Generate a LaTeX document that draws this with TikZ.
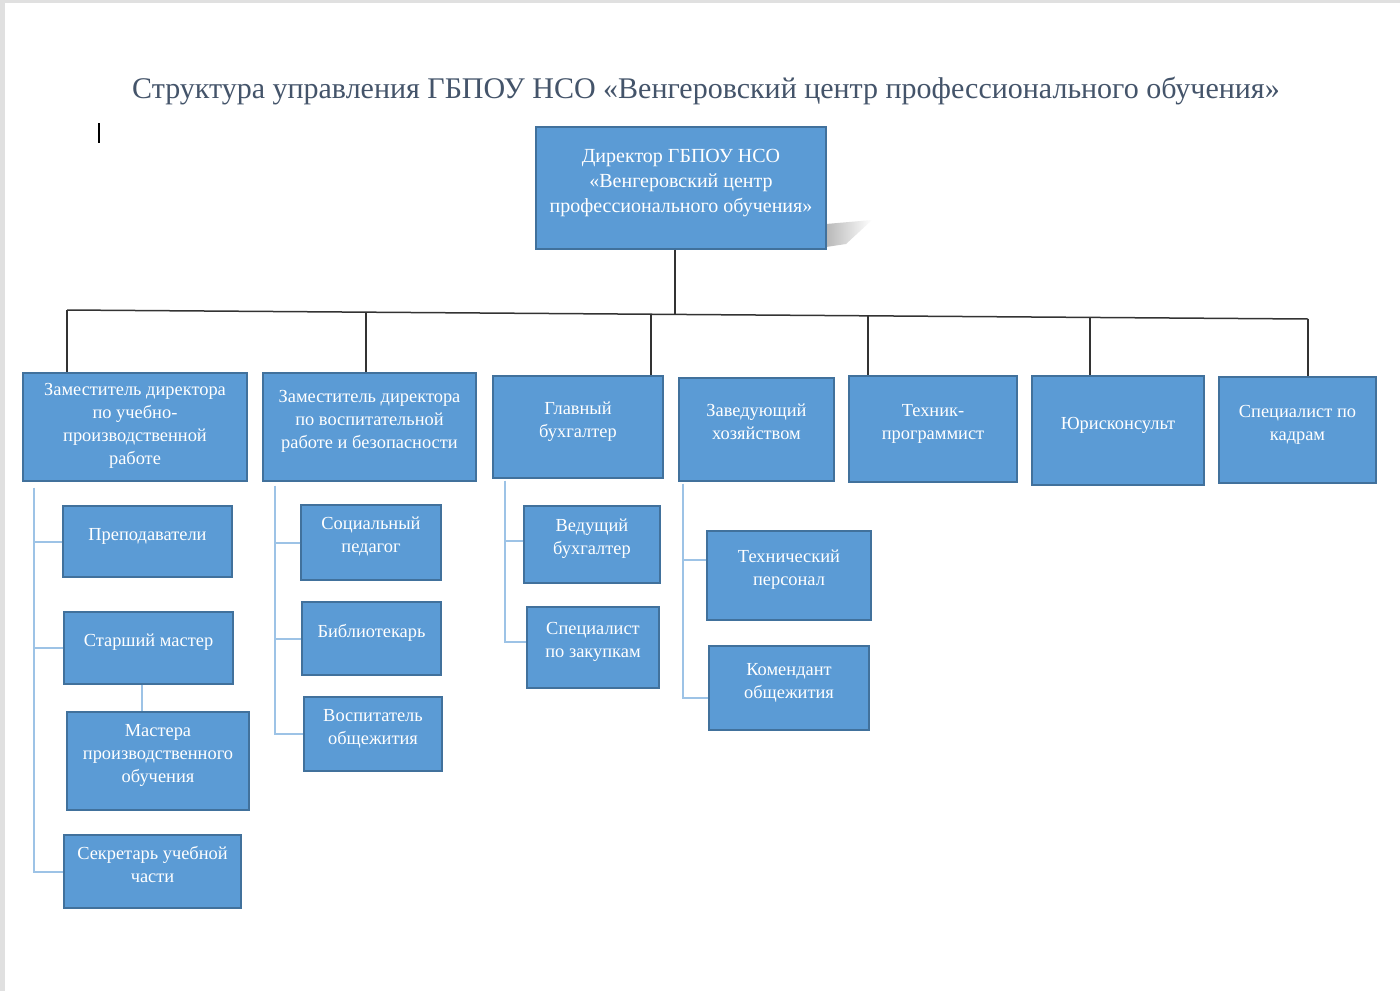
\documentclass[tikz,border=0pt]{standalone}
\usepackage{fontspec}
\setmainfont{Liberation Serif}
\usetikzlibrary{positioning, calc}
\definecolor{boxblue}{HTML}{5B9BD5}
\definecolor{boxedge}{HTML}{41719C}
\definecolor{linkblue}{HTML}{9DC3E6}
\definecolor{titlegray}{HTML}{44546A}
\tikzset{
  box/.style    ={draw=boxedge, fill=boxblue, line width=1.2pt, align=center,
                  text=white, inner sep=2pt, text depth=15pt,
                  font=\fontsize{18.4}{23}\selectfont},
  bigbox/.style ={font=\fontsize{20}{25}\selectfont},
  ttl/.style    ={text=titlegray, font=\fontsize{30}{34}\selectfont},
  topline/.style={draw=black!80, line width=1.5pt},
  subline/.style={draw=linkblue, line width=2pt},
}

\begin{document}
\begin{tikzpicture}[x=1pt, y=-1pt]
  % page
  \fill[black!12] (0,0) rectangle (1400,991);
  \fill[white] (5,3) rectangle (1400,991);
  \useasboundingbox (0,0) rectangle (1400,991);
  \shade[left color=black!28, right color=white] (826,224) -- (872,220) -- (846,244) -- (826,247) -- cycle;

  \node[ttl] (title) at (706,91) {Структура управления ГБПОУ НСО «Венгеровский центр профессионального обучения»};
  \draw[line width=1.2pt] (99,123) -- (99,143);

  % director
  \node[box, bigbox, minimum width=290, minimum height=122] (dir) at (681,188)
    {Директор ГБПОУ НСО\\«Венгеровский центр\\профессионального обучения»};

  % first row
  \node[box, text depth=6pt, minimum width=224, minimum height=108] (b1) at (135,427)
    {Заместитель директора\\по учебно-\\производственной\\работе};
  \node[box, minimum width=213, minimum height=108] (b2) at (369.5,427)
    {Заместитель директора\\по воспитательной\\работе и безопасности};
  \node[box, minimum width=170, minimum height=102] (b3) at (578,427) {Главный\\бухгалтер};
  \node[box, minimum width=155, minimum height=103] (b4) at (756.5,429.5) {Заведующий\\хозяйством};
  \node[box, minimum width=168, minimum height=106] (b5) at (933,429) {Техник-\\программист};
  \node[box, minimum width=172, minimum height=109] (b6) at (1118,430.5) {Юрисконсульт};
  \node[box, minimum width=157, minimum height=106] (b7) at (1297.5,430) {Специалист по\\кадрам};

  % sub boxes
  \node[box, minimum width=169, minimum height=71] (s11) at (147.5,541.5) {Преподаватели};
  \node[box, minimum width=169, minimum height=72] (s12) at (148.5,648) {Старший мастер};
  \node[box, minimum width=182, minimum height=98] (s13) at (158,761) {Мастера\\производственного\\обучения};
  \node[box, minimum width=177, minimum height=73] (s14) at (152.5,871.5) {Секретарь учебной\\части};

  \node[box, minimum width=140, minimum height=75] (s21) at (371,542.5) {Социальный\\педагог};
  \node[box, minimum width=139, minimum height=73] (s22) at (371.5,638.5) {Библиотекарь};
  \node[box, minimum width=138, minimum height=74] (s23) at (373,734) {Воспитатель\\общежития};

  \node[box, minimum width=136, minimum height=77] (s31) at (592,544.5) {Ведущий\\бухгалтер};
  \node[box, minimum width=132, minimum height=81] (s32) at (593,647.5) {Специалист\\по закупкам};

  \node[box, minimum width=164, minimum height=89] (s41) at (789,575.5) {Технический\\персонал};
  \node[box, minimum width=160, minimum height=84] (s42) at (789,688) {Комендант\\общежития};

  % bus from the director
  \coordinate (busL) at (67,310);
  \coordinate (busR) at (1308,319);
  \coordinate (dj) at ($(busL)!0.49!(busR)$);
  \draw[topline] (busL) -- (busR);
  \draw[topline] (dj |- dir.south) -- (dj);
  \draw[topline] (busL) -- (busL |- b1.north);
  \coordinate (d2) at ($(busL)!0.241!(busR)$);
  \coordinate (d3) at ($(busL)!0.4706!(busR)$);
  \coordinate (d5) at ($(busL)!0.6455!(busR)$);
  \coordinate (d6) at ($(busL)!0.8243!(busR)$);
  \draw[topline] (d2) -- (d2 |- b2.north);
  \draw[topline] (d3) -- (d3 |- b3.north);
  \draw[topline] (d5) -- (d5 |- b5.north);
  \draw[topline] (d6) -- (d6 |- b6.north);
  \draw[topline] (busR) -- (busR |- b7.north);

  % links under the first row
  \coordinate (sp1) at ($(b1.south west)+(12,6)$);
  \draw[subline] (sp1) |- (s14.west);
  \foreach \n in {s11,s12} \draw[subline] (\n.west) -- (\n.west -| sp1);
  \draw[subline] (s12.south -| 142,0) -- (s13.north -| 142,0);

  \coordinate (sp2) at ($(b2.south west)+(13,4)$);
  \draw[subline] (sp2) |- (s23.west);
  \foreach \n in {s21,s22} \draw[subline] (\n.west) -- (\n.west -| sp2);

  \coordinate (sp3) at ($(b3.south west)+(13,2)$);
  \draw[subline] (sp3) |- ([yshift=6]s32.west);
  \draw[subline] ([yshift=4]s31.west) -- ([yshift=4]s31.west -| sp3);

  \coordinate (sp4) at ($(b4.south west)+(5,2)$);
  \draw[subline] (sp4) |- ([yshift=-10]s42.west);
  \draw[subline] ([yshift=16]s41.west) -- ([yshift=16]s41.west -| sp4);
\end{tikzpicture}
\end{document}
